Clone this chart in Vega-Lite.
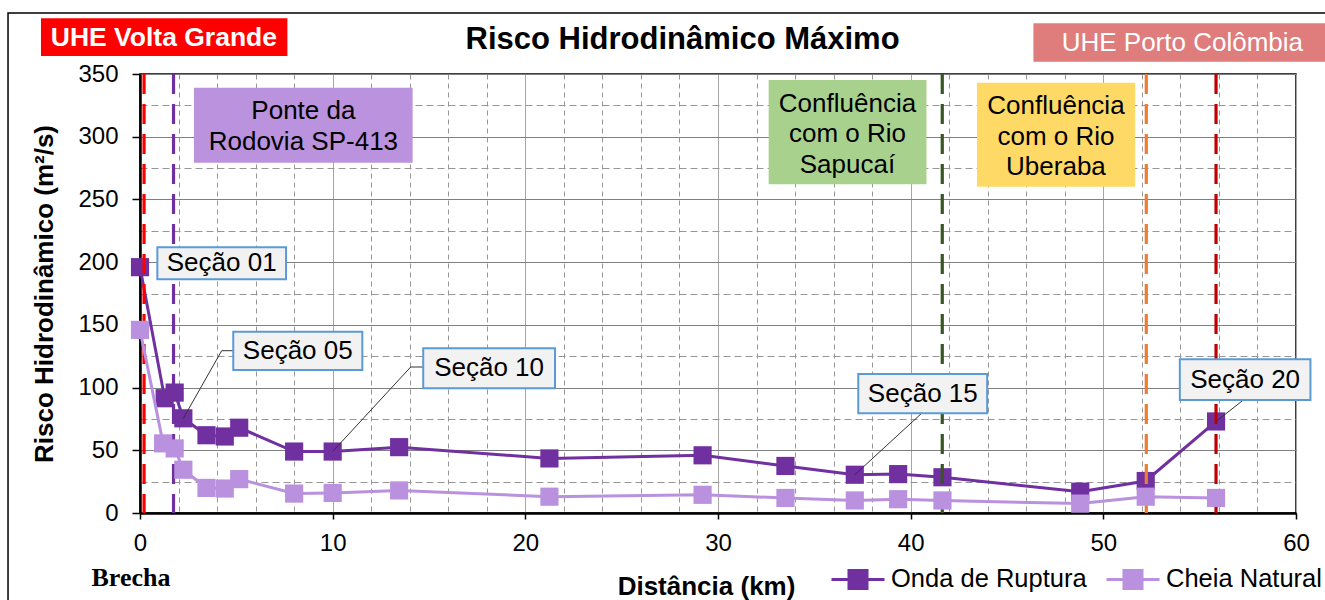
{
  "$schema": "https://vega.github.io/schema/vega-lite/v6.json",
  "width": 1156,
  "height": 439,
  "autosize": {"type": "none"},
  "padding": {"left": 140, "top": 74, "right": 29, "bottom": 87},
  "background": "#FFFFFF",
  "config": {
    "view": {"stroke": "#000000", "strokeWidth": 1.5},
    "font": "Liberation Sans"
  },
  "datasets": {
    "serie": [
      {"serie": "Onda de Ruptura", "km": 0, "v": 196},
      {"serie": "Onda de Ruptura", "km": 1.28, "v": 91.5},
      {"serie": "Onda de Ruptura", "km": 1.8, "v": 96},
      {"serie": "Onda de Ruptura", "km": 2.25, "v": 75.5},
      {"serie": "Onda de Ruptura", "km": 3.45, "v": 62},
      {"serie": "Onda de Ruptura", "km": 4.4, "v": 61},
      {"serie": "Onda de Ruptura", "km": 5.15, "v": 68},
      {"serie": "Onda de Ruptura", "km": 8.0, "v": 49},
      {"serie": "Onda de Ruptura", "km": 10.0, "v": 49},
      {"serie": "Onda de Ruptura", "km": 13.45, "v": 52.5},
      {"serie": "Onda de Ruptura", "km": 21.25, "v": 43.5},
      {"serie": "Onda de Ruptura", "km": 29.2, "v": 46},
      {"serie": "Onda de Ruptura", "km": 33.5, "v": 37.5},
      {"serie": "Onda de Ruptura", "km": 37.1, "v": 30.5},
      {"serie": "Onda de Ruptura", "km": 39.35, "v": 31},
      {"serie": "Onda de Ruptura", "km": 41.65, "v": 28.5},
      {"serie": "Onda de Ruptura", "km": 48.8, "v": 17},
      {"serie": "Onda de Ruptura", "km": 52.2, "v": 25.5},
      {"serie": "Onda de Ruptura", "km": 55.85, "v": 73},
      {"serie": "Cheia Natural", "km": 0, "v": 146},
      {"serie": "Cheia Natural", "km": 1.2, "v": 55.5},
      {"serie": "Cheia Natural", "km": 1.8, "v": 51.5},
      {"serie": "Cheia Natural", "km": 2.25, "v": 34.5},
      {"serie": "Cheia Natural", "km": 3.45, "v": 20},
      {"serie": "Cheia Natural", "km": 4.4, "v": 19.5},
      {"serie": "Cheia Natural", "km": 5.15, "v": 27},
      {"serie": "Cheia Natural", "km": 8.0, "v": 15.5},
      {"serie": "Cheia Natural", "km": 10.0, "v": 16},
      {"serie": "Cheia Natural", "km": 13.45, "v": 18},
      {"serie": "Cheia Natural", "km": 21.25, "v": 13},
      {"serie": "Cheia Natural", "km": 29.2, "v": 14.5},
      {"serie": "Cheia Natural", "km": 33.5, "v": 12},
      {"serie": "Cheia Natural", "km": 37.1, "v": 10},
      {"serie": "Cheia Natural", "km": 39.35, "v": 11},
      {"serie": "Cheia Natural", "km": 41.65, "v": 10},
      {"serie": "Cheia Natural", "km": 48.8, "v": 7.5},
      {"serie": "Cheia Natural", "km": 52.2, "v": 13},
      {"serie": "Cheia Natural", "km": 55.85, "v": 12}
    ],
    "referencias": [
      {"nome": "UHE Volta Grande", "km": 0.21},
      {"nome": "Ponte SP-413", "km": 1.74},
      {"nome": "Rio Sapucaí", "km": 41.64},
      {"nome": "Rio Uberaba", "km": 52.23},
      {"nome": "UHE Porto Colômbia", "km": 55.85}
    ],
    "anotacoes": [
      {"id": "volta", "texto": "UHE Volta Grande", "x1": -5.14, "x2": 7.65, "y1": 364.4, "y2": 394.4, "km": 1.24, "v": 378.4},
      {"id": "porto", "texto": "UHE  Porto Colômbia", "x1": 46.37, "x2": 61.8, "y1": 359.8, "y2": 390.4, "km": 54.1, "v": 374.5},
      {"id": "ponte", "texto": "Ponte da|Rodovia SP-413", "x1": 2.8, "x2": 14.15, "y1": 279.3, "y2": 339.1, "km": 8.48, "v": 320.5},
      {"id": "sapucai", "texto": "Confluência|com o Rio|Sapucaí", "x1": 32.63, "x2": 40.82, "y1": 262.1, "y2": 345.3, "km": 36.72, "v": 326.4},
      {"id": "uberaba", "texto": "Confluência|com o Rio|Uberaba", "x1": 43.44, "x2": 51.65, "y1": 260.2, "y2": 343.1, "km": 47.54, "v": 324.2}
    ],
    "secoes": [
      {"texto": "Seção 01", "x1": 0.9, "x2": 7.58, "y1": 186.4, "y2": 211.9, "km": 4.24, "v": 199.1},
      {"texto": "Seção 05", "x1": 4.84, "x2": 11.54, "y1": 114, "y2": 144.6, "km": 8.19, "v": 129.3},
      {"texto": "Seção 10", "x1": 14.7, "x2": 21.54, "y1": 99.4, "y2": 131.3, "km": 18.12, "v": 115.3},
      {"texto": "Seção 15", "x1": 37.28, "x2": 43.97, "y1": 79.5, "y2": 110.8, "km": 40.63, "v": 95.2},
      {"texto": "Seção 20", "x1": 53.97, "x2": 60.75, "y1": 90.1, "y2": 122.6, "km": 57.36, "v": 106.4}
    ],
    "chamadas": [
      {"secao": "05", "ordem": 1, "km": 2.25, "v": 75.5},
      {"secao": "05", "ordem": 2, "km": 4.24, "v": 129.4},
      {"secao": "05", "ordem": 3, "km": 4.84, "v": 129.4},
      {"secao": "10", "ordem": 1, "km": 10.0, "v": 49},
      {"secao": "10", "ordem": 2, "km": 14.05, "v": 116.4},
      {"secao": "10", "ordem": 3, "km": 14.7, "v": 116.4},
      {"secao": "15", "ordem": 1, "km": 37.1, "v": 30.5},
      {"secao": "15", "ordem": 2, "km": 40.57, "v": 79.5},
      {"secao": "20", "ordem": 1, "km": 55.85, "v": 73},
      {"secao": "20", "ordem": 2, "km": 57.27, "v": 90.1}
    ],
    "moldura": [
      {"x1": -6.85, "x2": 64, "y1": -90, "y2": 398.7}
    ],
    "rotulos": [
      {"tipo": "titulo", "texto": "Risco Hidrodinâmico Máximo", "km": 28.16, "v": 377},
      {"tipo": "brecha", "texto": "Brecha", "km": -0.47, "v": -51.8}
    ]
  },
  "layer": [
    {
      "data": {"name": "serie"},
      "transform": [{"filter": "datum.serie === 'Onda de Ruptura'"}],
      "mark": {"type": "line", "strokeWidth": 3},
      "encoding": {
        "x": {
          "field": "km", "type": "quantitative",
          "scale": {"domain": [0, 60], "nice": false, "zero": false},
          "axis": {
            "values": [0, 2, 4, 6, 8, 10, 12, 14, 16, 18, 20, 22, 24, 26, 28, 30, 32, 34, 36, 38, 40, 42, 44, 46, 48, 50, 52, 54, 56, 58, 60],
            "tickCount": 100,
            "format": "d",
            "labelExpr": "datum.value % 10 === 0 ? datum.label : ''",
            "labelOverlap": false,
            "labelFlush": false,
            "labelBound": false,
            "labelFont": "Liberation Sans",
            "labelFontSize": 24,
            "labelColor": "#000000",
            "labelPadding": 12,
            "grid": true,
            "gridColor": {"condition": {"test": "datum.value % 10 === 0", "value": "#A6A6A6"}, "value": "#969696"},
            "gridDash": {"condition": {"test": "datum.value % 10 === 0", "value": []}, "value": [5, 4]},
            "gridWidth": 1,
            "tickOpacity": {"condition": {"test": "datum.value % 10 === 0", "value": 1}, "value": 0},
            "tickColor": "#000000",
            "tickWidth": 1.5,
            "tickSize": 6,
            "domainColor": "#000000",
            "domainWidth": 2.5,
            "title": "Distância (km)",
            "titleFont": "Liberation Sans",
            "titleFontSize": 26,
            "titleFontWeight": "bold",
            "titleColor": "#000000",
            "titleX": 566,
            "titleY": 81,
            "titleAlign": "center",
            "titleBaseline": "alphabetic"
          }
        },
        "y": {
          "field": "v", "type": "quantitative",
          "scale": {"domain": [0, 350], "nice": false, "zero": false},
          "axis": {
            "values": [0, 25, 50, 75, 100, 125, 150, 175, 200, 225, 250, 275, 300, 325, 350],
            "tickCount": 100,
            "format": "d",
            "labelExpr": "datum.value % 50 === 0 ? datum.label : ''",
            "labelOverlap": false,
            "labelFlush": false,
            "labelBound": false,
            "labelFont": "Liberation Sans",
            "labelFontSize": 24,
            "labelColor": "#000000",
            "labelPadding": 14,
            "grid": true,
            "gridColor": {"condition": {"test": "datum.value % 50 === 0", "value": "#7F7F7F"}, "value": "#969696"},
            "gridDash": {"condition": {"test": "datum.value % 50 === 0", "value": []}, "value": [7, 4]},
            "gridWidth": 1,
            "tickOpacity": {"condition": {"test": "datum.value % 50 === 0", "value": 1}, "value": 0},
            "tickColor": "#000000",
            "tickWidth": 1.5,
            "tickSize": 8,
            "domainColor": "#000000",
            "domainWidth": 2.5,
            "title": "Risco Hidrodinâmico (m²/s)",
            "titleFont": "Liberation Sans",
            "titleFontSize": 26,
            "titleFontWeight": "bold",
            "titleColor": "#000000",
            "titlePadding": 20
          }
        },
        "color": {
          "field": "serie", "type": "nominal",
          "scale": {"domain": ["Onda de Ruptura", "Cheia Natural"], "range": ["#7030A0", "#B991DE"]},
          "legend": {
            "orient": "none",
            "legendX": 690,
            "legendY": 477,
            "direction": "horizontal",
            "title": null,
            "labelFont": "Liberation Sans",
            "labelFontSize": 25.5,
            "labelColor": "#000000",
            "labelLimit": 0,
            "labelOffset": 5,
            "columnPadding": 13,
            "symbolType": "M-1,0H1M-0.34,-0.34H0.34V0.34H-0.34Z",
            "symbolSize": 2809,
            "symbolStrokeWidth": 3,
            "symbolOpacity": 1,
            "encode": {
              "symbols": {
                "update": {
                  "fill": {"scale": "color", "field": "value"},
                  "stroke": {"scale": "color", "field": "value"}
                }
              }
            }
          }
        }
      }
    },
    {
      "data": {"name": "moldura"},
      "mark": {"type": "rect", "fill": null, "fillOpacity": 0, "stroke": "#000000", "strokeWidth": 1.5, "clip": false},
      "encoding": {
        "x": {"field": "x1", "type": "quantitative", "scale": {"domain": [0, 60], "nice": false, "zero": false}},
        "x2": {"field": "x2"},
        "y": {"field": "y1", "type": "quantitative", "scale": {"domain": [0, 350], "nice": false, "zero": false}},
        "y2": {"field": "y2"}
      }
    },
    {
      "data": {"name": "serie"},
      "transform": [{"filter": "datum.serie === 'Onda de Ruptura'"}],
      "mark": {"type": "point", "shape": "square", "filled": true, "size": 330, "opacity": 1},
      "encoding": {
        "x": {"field": "km", "type": "quantitative", "scale": {"domain": [0, 60], "nice": false, "zero": false}},
        "y": {"field": "v", "type": "quantitative", "scale": {"domain": [0, 350], "nice": false, "zero": false}},
        "color": {"field": "serie", "type": "nominal", "scale": {"domain": ["Onda de Ruptura", "Cheia Natural"], "range": ["#7030A0", "#B991DE"]}, "legend": null}
      }
    },
    {
      "data": {"name": "referencias"},
      "mark": {"type": "rule", "strokeWidth": 3.2, "strokeDash": [20, 10]},
      "encoding": {
        "x": {"field": "km", "type": "quantitative", "scale": {"domain": [0, 60], "nice": false, "zero": false}},
        "stroke": {
          "field": "nome", "type": "nominal",
          "scale": {"domain": ["UHE Volta Grande", "Ponte SP-413", "Rio Sapucaí", "Rio Uberaba", "UHE Porto Colômbia"], "range": ["#FF0000", "#7030A0", "#375623", "#ED7D31", "#C00000"]},
          "legend": null
        }
      }
    },
    {
      "data": {"name": "serie"},
      "transform": [{"filter": "datum.serie === 'Cheia Natural'"}],
      "mark": {"type": "line", "strokeWidth": 3},
      "encoding": {
        "x": {"field": "km", "type": "quantitative", "scale": {"domain": [0, 60], "nice": false, "zero": false}},
        "y": {"field": "v", "type": "quantitative", "scale": {"domain": [0, 350], "nice": false, "zero": false}},
        "color": {"field": "serie", "type": "nominal", "scale": {"domain": ["Onda de Ruptura", "Cheia Natural"], "range": ["#7030A0", "#B991DE"]}, "legend": null}
      }
    },
    {
      "data": {"name": "serie"},
      "transform": [{"filter": "datum.serie === 'Cheia Natural'"}],
      "mark": {"type": "point", "shape": "square", "filled": true, "size": 330, "opacity": 1},
      "encoding": {
        "x": {"field": "km", "type": "quantitative", "scale": {"domain": [0, 60], "nice": false, "zero": false}},
        "y": {"field": "v", "type": "quantitative", "scale": {"domain": [0, 350], "nice": false, "zero": false}},
        "color": {"field": "serie", "type": "nominal", "scale": {"domain": ["Onda de Ruptura", "Cheia Natural"], "range": ["#7030A0", "#B991DE"]}, "legend": null}
      }
    },
    {
      "data": {"name": "chamadas"},
      "mark": {"type": "line", "stroke": "#333333", "strokeWidth": 1},
      "encoding": {
        "x": {"field": "km", "type": "quantitative", "scale": {"domain": [0, 60], "nice": false, "zero": false}},
        "y": {"field": "v", "type": "quantitative", "scale": {"domain": [0, 350], "nice": false, "zero": false}},
        "detail": {"field": "secao", "type": "nominal"},
        "order": {"field": "ordem", "type": "quantitative"}
      }
    },
    {
      "data": {"name": "anotacoes"},
      "mark": {"type": "rect", "clip": false},
      "encoding": {
        "x": {"field": "x1", "type": "quantitative", "scale": {"domain": [0, 60], "nice": false, "zero": false}},
        "x2": {"field": "x2"},
        "y": {"field": "y1", "type": "quantitative", "scale": {"domain": [0, 350], "nice": false, "zero": false}},
        "y2": {"field": "y2"},
        "fill": {
          "field": "id", "type": "nominal",
          "scale": {"domain": ["volta", "porto", "ponte", "sapucai", "uberaba"], "range": ["#FF0000", "#DF7C7C", "#BA92DD", "#A9D18E", "#FFD966"]},
          "legend": null
        }
      }
    },
    {
      "data": {"name": "secoes"},
      "mark": {"type": "rect", "fill": "#F2F2F2", "stroke": "#5B9BD5", "strokeWidth": 2},
      "encoding": {
        "x": {"field": "x1", "type": "quantitative", "scale": {"domain": [0, 60], "nice": false, "zero": false}},
        "x2": {"field": "x2"},
        "y": {"field": "y1", "type": "quantitative", "scale": {"domain": [0, 350], "nice": false, "zero": false}},
        "y2": {"field": "y2"}
      }
    },
    {
      "data": {"name": "anotacoes"},
      "transform": [{"filter": "datum.id === 'volta'"}],
      "mark": {"type": "text", "font": "Liberation Sans", "fontSize": 26.5, "fontWeight": "bold", "color": "#FFFFFF", "align": "center", "baseline": "middle", "clip": false},
      "encoding": {
        "x": {"field": "km", "type": "quantitative", "scale": {"domain": [0, 60], "nice": false, "zero": false}},
        "y": {"field": "v", "type": "quantitative", "scale": {"domain": [0, 350], "nice": false, "zero": false}},
        "text": {"field": "texto", "type": "nominal"}
      }
    },
    {
      "data": {"name": "anotacoes"},
      "transform": [{"filter": "datum.id === 'porto'"}],
      "mark": {"type": "text", "font": "Liberation Sans", "fontSize": 26, "color": "#FFFFFF", "align": "center", "baseline": "middle", "clip": false},
      "encoding": {
        "x": {"field": "km", "type": "quantitative", "scale": {"domain": [0, 60], "nice": false, "zero": false}},
        "y": {"field": "v", "type": "quantitative", "scale": {"domain": [0, 350], "nice": false, "zero": false}},
        "text": {"field": "texto", "type": "nominal"}
      }
    },
    {
      "data": {"name": "anotacoes"},
      "transform": [{"filter": "datum.id !== 'volta' && datum.id !== 'porto'"}],
      "mark": {"type": "text", "font": "Liberation Sans", "fontSize": 26, "color": "#000000", "align": "center", "baseline": "middle", "lineBreak": "|", "lineHeight": 30.5},
      "encoding": {
        "x": {"field": "km", "type": "quantitative", "scale": {"domain": [0, 60], "nice": false, "zero": false}},
        "y": {"field": "v", "type": "quantitative", "scale": {"domain": [0, 350], "nice": false, "zero": false}},
        "text": {"field": "texto", "type": "nominal"}
      }
    },
    {
      "data": {"name": "secoes"},
      "mark": {"type": "text", "font": "Liberation Sans", "fontSize": 26, "color": "#000000", "align": "center", "baseline": "middle"},
      "encoding": {
        "x": {"field": "km", "type": "quantitative", "scale": {"domain": [0, 60], "nice": false, "zero": false}},
        "y": {"field": "v", "type": "quantitative", "scale": {"domain": [0, 350], "nice": false, "zero": false}},
        "text": {"field": "texto", "type": "nominal"}
      }
    },
    {
      "data": {"name": "rotulos"},
      "transform": [{"filter": "datum.tipo === 'titulo'"}],
      "mark": {"type": "text", "font": "Liberation Sans", "fontSize": 31, "fontWeight": "bold", "color": "#000000", "align": "center", "baseline": "middle", "clip": false},
      "encoding": {
        "x": {"field": "km", "type": "quantitative", "scale": {"domain": [0, 60], "nice": false, "zero": false}},
        "y": {"field": "v", "type": "quantitative", "scale": {"domain": [0, 350], "nice": false, "zero": false}},
        "text": {"field": "texto", "type": "nominal"}
      }
    },
    {
      "data": {"name": "rotulos"},
      "transform": [{"filter": "datum.tipo === 'brecha'"}],
      "mark": {"type": "text", "font": "Liberation Serif", "fontSize": 26, "fontWeight": "bold", "color": "#000000", "align": "center", "baseline": "middle", "clip": false},
      "encoding": {
        "x": {"field": "km", "type": "quantitative", "scale": {"domain": [0, 60], "nice": false, "zero": false}},
        "y": {"field": "v", "type": "quantitative", "scale": {"domain": [0, 350], "nice": false, "zero": false}},
        "text": {"field": "texto", "type": "nominal"}
      }
    }
  ]
}
